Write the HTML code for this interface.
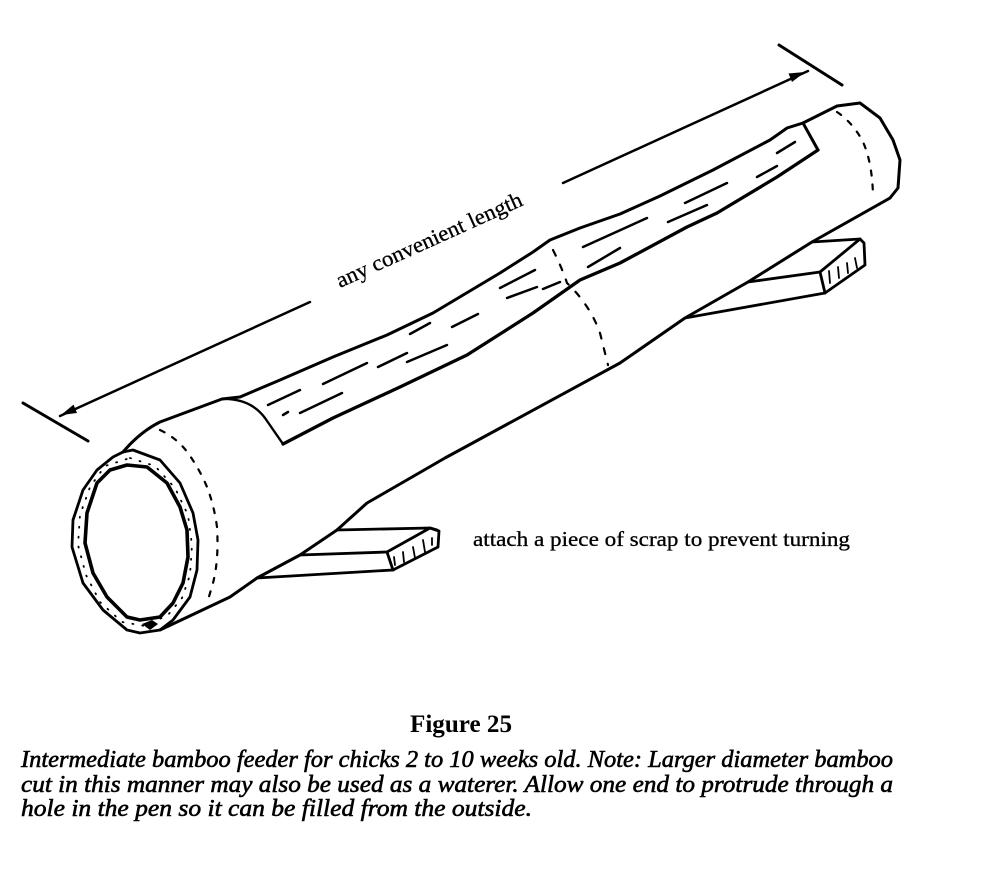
<!DOCTYPE html>
<html>
<head>
<meta charset="utf-8">
<style>
  html,body{margin:0;padding:0;background:#fff;}
  body{width:1000px;height:886px;overflow:hidden;}
  svg{display:block;}
  .s{fill:none;stroke:#000;stroke-linecap:round;stroke-linejoin:round;}
</style>
</head>
<body>
<svg width="1000" height="886" viewBox="0 0 1000 886" xmlns="http://www.w3.org/2000/svg">
  <rect x="0" y="0" width="1000" height="886" fill="#fff"/>

  <!-- Dimension line -->
  <path class="s" stroke-width="3" d="M23 403 L88 441"/>
  <path class="s" stroke-width="2.5" d="M60 416 L310 302"/>
  <polygon points="61,415 77,413 73.5,404.6" fill="#000"/>
  <path class="s" stroke-width="2.5" d="M563 183 L808 71"/>
  <polygon points="805,72 792,82 788.5,73.5" fill="#000"/>
  <path class="s" stroke-width="3" d="M779 45 L842 85"/>
  <text transform="translate(340,288) rotate(-24.3)" font-family="Liberation Serif, serif" font-size="22" stroke="#000" stroke-width="0.3" textLength="202" lengthAdjust="spacingAndGlyphs">any convenient length</text>

  <!-- Front ring outer -->
  <path class="s" stroke-width="2.8" d="M123 452 L133 450 L160 460 L180 483 L193 513 L198 540 L197 570 L190 597 L173 620 L160 630 L140 633 L127 630 L103 610 L83 583 L72 547 L73 520 L83 490 L97 470 L113 457 Z"/>
  <!-- Front ring inner -->
  <path class="s" stroke-width="3.6" d="M127 465 L147 467 L167 483 L180 507 L187 530 L188 557 L183 583 L173 603 L160 617 L140 620 L127 617 L107 597 L93 573 L85 543 L87 513 L97 483 L110 470 Z"/>
  <!-- stipple in ring -->
  <path class="s" stroke-width="1.8" stroke-dasharray="1 9" d="M130 458 L155 466 L175 488 L188 515 L192 545 L190 575 L182 598 L168 615 L145 626 L122 622 L100 602 L86 575 L78 545 L80 515 L90 487 L105 466 Z"/>
  <path fill="#000" d="M142 624 L152 620 L158 624 L150 630 Z"/>

  <!-- Top silhouette left collar + upper trough edge -->
  <path class="s" stroke-width="3" d="M123 452 Q140 432 160 422 L222 399 L240 397 L280 380 L333 357 L387 335 L433 313 L500 273 L533 252 L550 240 L580 228 L620 214 L660 196 L713 170 L770 140 L780 133 L787 128 L803 123"/>
  <!-- cut curve at left -->
  <path class="s" stroke-width="2.4" d="M222 399 Q250 398 265 418 L283 444"/>
  <!-- right collar top and cap -->
  <path class="s" stroke-width="3" d="M803 123 L837 106 L860 103 L880 118 L893 140 L900 160 L898 188 L890 198"/>
  <!-- cut end at right -->
  <path class="s" stroke-width="3" d="M803 123 L818 150"/>
  <!-- lower (near) trough edge -->
  <path class="s" stroke-width="3.3" d="M283 444 L333 418 L400 387 L467 355 L533 313 L580 280 L620 263 L687 227 L717 213 L777 177 L818 150"/>
  <!-- tube bottom silhouette -->
  <path class="s" stroke-width="3" d="M890 198 L812 242 L748 282 L685 318 L620 363 L445 458 L367 503 L337 530 L300 555 L257 578 L230 597 L160 630"/>

  <!-- Right scrap -->
  <path class="s" stroke-width="2.8" d="M812 242 L860 239"/>
  <path class="s" stroke-width="2.8" d="M748 282 L820 272"/>
  <path class="s" stroke-width="2.8" d="M820 272 L860 239 L864 243 L865 265 L825 293 Z"/>
  <path class="s" stroke-width="2.8" d="M685 318 L825 293"/>
  <path class="s" stroke-width="1.8" d="M829 271 L830 283 M838 267 L839 278 M847 263 L848 273 M855 258 L857 268"/>

  <!-- Left scrap -->
  <path class="s" stroke-width="2.8" d="M337 530 L430 528 L437 530"/>
  <path class="s" stroke-width="2.8" d="M300 555 L387 552"/>
  <path class="s" stroke-width="2.8" d="M387 552 L430 528 L439 531 L438 547 L393 570 Z"/>
  <path class="s" stroke-width="2.8" d="M257 578 L393 570"/>
  <path class="s" stroke-width="1.8" d="M394 557 L395 565 M403 552 L404 562 M413 547 L415 558 M423 540 L425 552 M432 538 L432 545"/>

  <!-- dotted collar/node lines -->
  <path class="s" stroke-width="2.2" stroke-dasharray="5 9" d="M160 430 Q177 438 188 453 Q200 470 207 487 Q214 505 217 527 Q219 560 213 583 L208 600"/>
  <path class="s" stroke-width="2.2" stroke-dasharray="6 10" d="M553 250 Q562 268 567 283 Q590 305 600 333 L608 365"/>
  <path class="s" stroke-width="2.2" stroke-dasharray="5 9" d="M837 112 Q852 122 862 140 Q872 160 873 195"/>

  <!-- grain dashes in trough -->
  <path class="s" stroke-width="2.5" d="
    M268 405 L300 390
    M283 415 L288 412
    M300 413 L342 393
    M323 384 L367 363
    M378 367 L407 353
    M407 362 L447 345
    M410 334 L430 323
    M452 327 L478 314
    M500 288 L535 270
    M507 298 L537 287
    M543 289 L560 282
    M583 247 L647 218
    M588 267 L620 248
    M668 222 L707 205
    M685 203 L727 183
    M757 177 L777 166
    M777 153 L795 142"/>

  <!-- annotation -->
  <text x="473" y="546" font-family="Liberation Serif, serif" font-size="21" stroke="#000" stroke-width="0.3" textLength="377" lengthAdjust="spacingAndGlyphs">attach a piece of scrap to prevent turning</text>

  <!-- caption -->
  <text x="410" y="732" font-family="Liberation Serif, serif" font-size="25" font-weight="bold" textLength="102" lengthAdjust="spacingAndGlyphs">Figure 25</text>
  <g font-family="Liberation Serif, serif" font-size="24" font-style="italic" stroke="#000" stroke-width="0.6">
    <text x="21" y="767" textLength="872" lengthAdjust="spacingAndGlyphs">Intermediate bamboo feeder for chicks 2 to 10 weeks old. Note: Larger diameter bamboo</text>
    <text x="21" y="792" textLength="872" lengthAdjust="spacingAndGlyphs">cut in this manner may also be used as a waterer. Allow one end to protrude through a</text>
    <text x="21" y="816" textLength="511" lengthAdjust="spacingAndGlyphs">hole in the pen so it can be filled from the outside.</text>
  </g>
</svg>
</body>
</html>
